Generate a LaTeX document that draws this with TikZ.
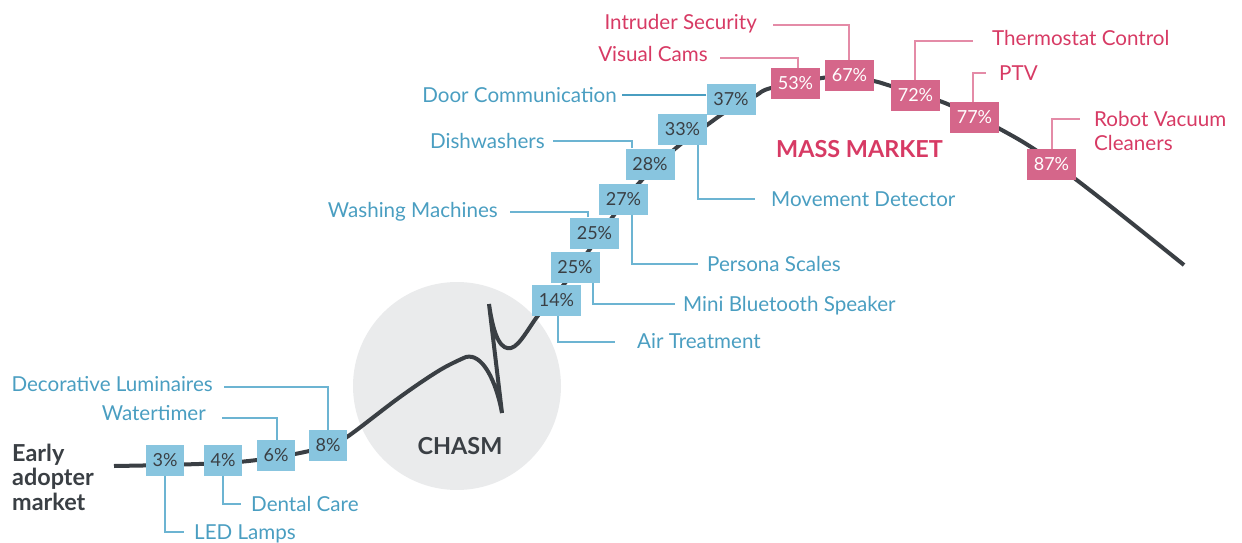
\documentclass[tikz,border=0pt]{standalone}
\usepackage{fontspec}
\setmainfont{Lato}
\definecolor{boxB}{HTML}{88C5DF}
\definecolor{txtB}{HTML}{4A9EC1}
\definecolor{lineB}{HTML}{6CB4D2}
\definecolor{boxP}{HTML}{D5668A}
\definecolor{txtP}{HTML}{D73A64}
\definecolor{lineP}{HTML}{E48BA7}
\definecolor{dark}{HTML}{3A3F44}
\definecolor{chasmgray}{HTML}{EAEBEC}
\begin{document}
\begin{tikzpicture}[x=1pt,y=-1pt,
  pct/.style={minimum height=31pt, inner sep=0pt, font=\fontsize{18}{21}\selectfont},
  one/.style={minimum width=38pt},
  two/.style={minimum width=49pt},
  pB/.style={pct, fill=boxB, text=dark},
  pP/.style={pct, fill=boxP, text=white},
  lblB/.style={text=txtB, inner sep=0pt, font=\fontsize{20.6}{23.5}\selectfont},
  lblP/.style={text=txtP, inner sep=0pt, font=\fontsize{20.6}{23.5}\selectfont},
  leadB/.style={draw=lineB, line width=1.2pt},
  leadP/.style={draw=lineP, line width=1.2pt},
  curve/.style={draw=dark, line width=4pt},
  big/.style={inner sep=0pt, font=\fontsize{23.4}{24.5}\selectfont\bfseries}]
\useasboundingbox (0,0) rectangle (1242,543);
% chasm
\fill[chasmgray] (457,386) circle (104);
\node[big, text=dark, anchor=base] (chasm) at (460,454) {CHASM};
% curve
\draw[curve] plot[smooth, tension=0.6] coordinates {(114,466) (165,465) (223,463) (257,460) (295,454) (328,446) (347,437) (400,397) (440,370) (466,357)}
  .. controls (482,353) and (496,380) .. (502,413) -- (489,304)
  .. controls (494,340) and (502,350) .. (511,348)
  .. controls (520,346) and (530,325) .. (540,313);
\draw[curve] plot[smooth, tension=0.6] coordinates {(540,313) (565,283) (590,249) (614,215) (640,182) (676,148) (707,125) (730,109) (755,96) (771,88) (822,78) (848,76) (874,81) (891,86) (915,93) (945,103) (975,117) (1000,129) (1040,153) (1100,198) (1184,265)};
% early adopter
\node[big, text=dark, anchor=base west, align=left] (early) at (12,510) {Early\\adopter\\market};
\node[big, text=txtP, anchor=base west] (mass) at (776,157) {MASS MARKET};
% boxes
\node[pB, one] (b3) at (165,460.5) {3\%};
\node[pB, one] (b4) at (223,460.5) {4\%};
\node[pB, one] (b6) at (276,455.5) {6\%};
\node[pB, one] (b8) at (328,445.5) {8\%};
\node[pB, two] (b14) at (556.5,300.5) {14\%};
\node[pB, two] (b25a) at (575,267) {25\%};
\node[pB, two] (b25b) at (594.5,233) {25\%};
\node[pB, two] (b27) at (623.5,199) {27\%};
\node[pB, two] (b28) at (650,164) {28\%};
\node[pB, two] (b33) at (682.5,129) {33\%};
\node[pB, two] (b37) at (731,99.5) {37\%};
\node[pP, two] (b53) at (795.5,83.5) {53\%};
\node[pP, two] (b67) at (849.5,75.5) {67\%};
\node[pP, two] (b72) at (915.5,95.5) {72\%};
\node[pP, two] (b77) at (974.5,117.5) {77\%};
\node[pP, two] (b87) at (1051.5,164.5) {87\%};
% blue labels
\node[lblB, anchor=base west] (tLED) at (194,539.5) {LED Lamps};
\coordinate (eLED) at (165,532); \coordinate (fLED) at (184,532);
\draw[leadB] (b3.south) -- (eLED) -- (fLED);
\node[lblB, anchor=base west] (tDen) at (251,511.5) {Dental Care};
\coordinate (eDen) at (223,504); \coordinate (fDen) at (241,504);
\draw[leadB] (b4.south) -- (eDen) -- (fDen);
\node[lblB, anchor=base east] (tWat) at (206,420) {Watertimer};
\coordinate (eWat) at (277,418); \coordinate (fWat) at (222,418);
\draw[leadB] (b6.north -| eWat) -- (eWat) -- (fWat);
\node[lblB, anchor=base east] (tDec) at (213,391) {Decorative Luminaires};
\coordinate (eDec) at (328,387); \coordinate (fDec) at (224,387);
\draw[leadB] (b8.north) -- (eDec) -- (fDec);
\node[lblB, anchor=base west] (tAir) at (637,348) {Air Treatment};
\coordinate (eAir) at (558,342); \coordinate (fAir) at (615,342);
\draw[leadB] (b14.south -| eAir) -- (eAir) -- (fAir);
\node[lblB, anchor=base west] (tMini) at (683,311) {Mini Bluetooth Speaker};
\coordinate (eMini) at (593,304); \coordinate (fMini) at (675,304);
\draw[leadB] (b25a.south -| eMini) -- (eMini) -- (fMini);
\node[lblB, anchor=base west] (tPer) at (707,271) {Persona Scales};
\coordinate (ePer) at (632,264); \coordinate (fPer) at (698,264);
\draw[leadB] (b27.south -| ePer) -- (ePer) -- (fPer);
\node[lblB, anchor=base west] (tMov) at (771,206) {Movement Detector};
\coordinate (eMov) at (698,199); \coordinate (fMov) at (755,199);
\draw[leadB] (b33.south -| eMov) -- (eMov) -- (fMov);
\node[lblB, anchor=base east] (tWas) at (498,217) {Washing Machines};
\coordinate (eWas) at (588,212); \coordinate (fWas) at (510,212);
\draw[leadB] (b25b.north -| eWas) -- (eWas) -- (fWas);
\node[lblB, anchor=base east] (tDis) at (545,148) {Dishwashers};
\coordinate (eDis) at (632,141); \coordinate (fDis) at (553,141);
\draw[leadB] (b28.north -| eDis) -- (eDis) -- (fDis);
\node[lblB, anchor=base east] (tDoor) at (617,102) {Door Communication};
\coordinate (fDoor) at (622,95);
\draw[draw=txtB, line width=2pt] (b37.west |- fDoor) -- (fDoor);
% pink labels
\node[lblP, anchor=base east] (tVis) at (708,62) {Visual Cams};
\coordinate (eVis) at (798,58); \coordinate (fVis) at (720,58);
\draw[leadP] (b53.north -| eVis) -- (eVis) -- (fVis);
\node[lblP, anchor=base east] (tInt) at (757,30) {Intruder Security};
\coordinate (eInt) at (849,25); \coordinate (fInt) at (773,25);
\draw[leadP] (b67.north -| eInt) -- (eInt) -- (fInt);
\node[lblP, anchor=base west] (tThe) at (992,46) {Thermostat Control};
\coordinate (eThe) at (915,41); \coordinate (fThe) at (973,41);
\draw[leadP] (b72.north -| eThe) -- (eThe) -- (fThe);
\node[lblP, anchor=base west] (tPTV) at (999,81) {PTV};
\coordinate (ePTV) at (973,73); \coordinate (fPTV) at (986,73);
\draw[leadP] (b77.north -| ePTV) -- (ePTV) -- (fPTV);
\node[lblP, anchor=base west, align=left] (tRob) at (1094,150) {Robot Vacuum\\Cleaners};
\coordinate (eRob) at (1052,119); \coordinate (fRob) at (1080,119);
\draw[leadP] (b87.north -| eRob) -- (eRob) -- (fRob);
\end{tikzpicture}
\end{document}
